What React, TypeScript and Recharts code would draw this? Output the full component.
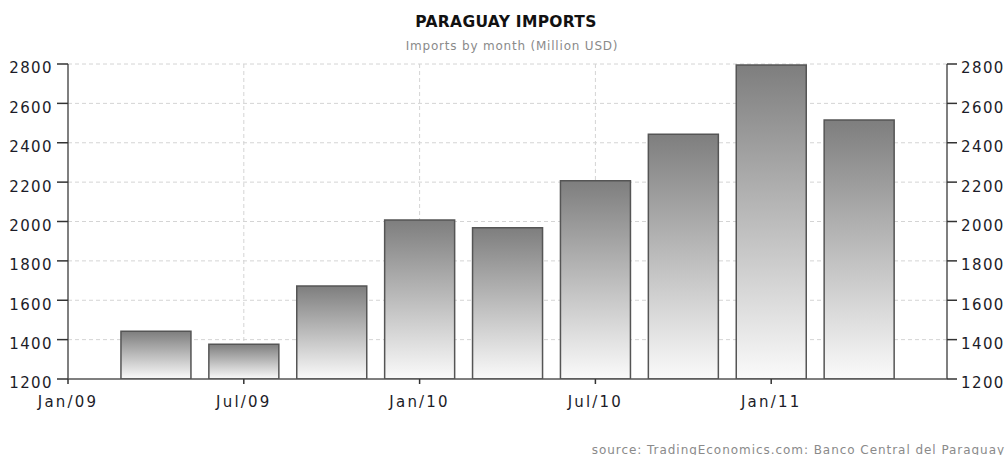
import React from 'react';
import { BarChart, Bar, XAxis, YAxis, CartesianGrid } from 'recharts';

// months since Jan 2009
const months = [3, 6, 9, 12, 15, 18, 21, 24, 27];
const imports = [1442, 1376, 1672, 2008, 1968, 2207, 2443, 2795, 2516];
const xTicks = [0, 6, 12, 18, 24];
const xTickLabels = ['Jan/09', 'Jul/09', 'Jan/10', 'Jul/10', 'Jan/11'];
const yTicks = [1200, 1400, 1600, 1800, 2000, 2200, 2400, 2600, 2800];

const data = months.map((m, i) => ({ m, v: imports[i] }));

const FONT = '"DejaVu Sans", Verdana, sans-serif';
const TEXT = '#1c1c28';

const LeftTick = (props: any) => {
  const { x, y, payload } = props;
  return (
    <text x={x} y={y + 4} dy="0.36em" textAnchor="end" fontFamily={FONT} fontSize={15} letterSpacing={1.4} fill={TEXT}>
      {payload.value}
    </text>
  );
};

const RightTick = (props: any) => {
  const { x, y, payload } = props;
  return (
    <text x={x} y={y + 4} dy="0.36em" textAnchor="start" fontFamily={FONT} fontSize={15} letterSpacing={1.4} fill={TEXT}>
      {payload.value}
    </text>
  );
};

const BottomTick = (props: any) => {
  const { x, y, payload } = props;
  const idx = xTicks.indexOf(payload.value);
  return (
    <text x={x} y={y} dy="0.71em" textAnchor="middle" fontFamily={FONT} fontSize={15} letterSpacing={2.2} fill={TEXT}>
      {idx >= 0 ? xTickLabels[idx] : ''}
    </text>
  );
};

export default function App() {
  return (
    <div style={{ position: 'absolute', left: 0, top: 0, width: 1008, height: 455, background: '#fff' }}>
      <div
        style={{
          position: 'absolute', left: 0, width: 1008, top: 13, textAlign: 'center',
          fontFamily: FONT, fontWeight: 'bold', fontSize: 15.5, color: '#111', paddingLeft: 2, letterSpacing: 0.3,
        }}
      >
        PARAGUAY IMPORTS
      </div>
      <div
        style={{
          position: 'absolute', left: 0, width: 1008, top: 39, textAlign: 'center',
          fontFamily: FONT, fontSize: 12, color: '#8a8a8a', letterSpacing: 0.8, paddingLeft: 8,
        }}
      >
        Imports by month (Million USD)
      </div>
      <div
        style={{
          position: 'absolute', right: 3, top: 443,
          fontFamily: FONT, fontSize: 12, color: '#8a8a8a', letterSpacing: 0.95,
        }}
      >
        source: TradingEconomics.com: Banco Central del Paraguay
      </div>
      <BarChart
        width={1008}
        height={455}
        data={data}
        margin={{ top: 64, right: 0, bottom: 46, left: 0 }}
        style={{ position: 'absolute', left: 0, top: 0 }}
      >
        <defs>
          <linearGradient id="barGrad" x1="0" y1="0" x2="0" y2="1">
            <stop offset="0%" stopColor="#7e7e7e" />
            <stop offset="100%" stopColor="#fafafa" />
          </linearGradient>
        </defs>
        <CartesianGrid
          yAxisId="left"
          stroke="#d4d4d4"
          strokeDasharray="4 3"
          verticalValues={[6, 12, 18, 24]}
          horizontalValues={yTicks.slice(1)}
        />
        <XAxis
          dataKey="m"
          type="number"
          domain={[0, 30]}
          ticks={xTicks}
          interval={0}
          allowDataOverflow
          height={30}
          axisLine={{ stroke: '#555', strokeWidth: 1.5 }}
          tickLine={{ stroke: '#333', strokeWidth: 1.5 }}
          tickSize={5}
          tickMargin={12}
          tick={<BottomTick />}
        />
        <YAxis
          yAxisId="left"
          orientation="left"
          width={68}
          domain={[1200, 2800]}
          ticks={yTicks}
          interval={0}
          allowDataOverflow
          axisLine={{ stroke: '#555', strokeWidth: 1.5 }}
          tickLine={{ stroke: '#333', strokeWidth: 1.5 }}
          tickSize={11}
          tickMargin={4}
          tick={<LeftTick />}
        />
        <YAxis
          yAxisId="right"
          orientation="right"
          width={61}
          domain={[1200, 2800]}
          ticks={yTicks}
          interval={0}
          allowDataOverflow
          axisLine={{ stroke: '#555', strokeWidth: 1.5 }}
          tickLine={{ stroke: '#333', strokeWidth: 1.5 }}
          tickSize={10}
          tickMargin={4}
          tick={<RightTick />}
        />
        <Bar
          yAxisId="left"
          dataKey="v"
          barSize={70}
          fill="url(#barGrad)"
          stroke="#555"
          strokeWidth={1.5}
          isAnimationActive={false}
        />
      </BarChart>
    </div>
  );
}
